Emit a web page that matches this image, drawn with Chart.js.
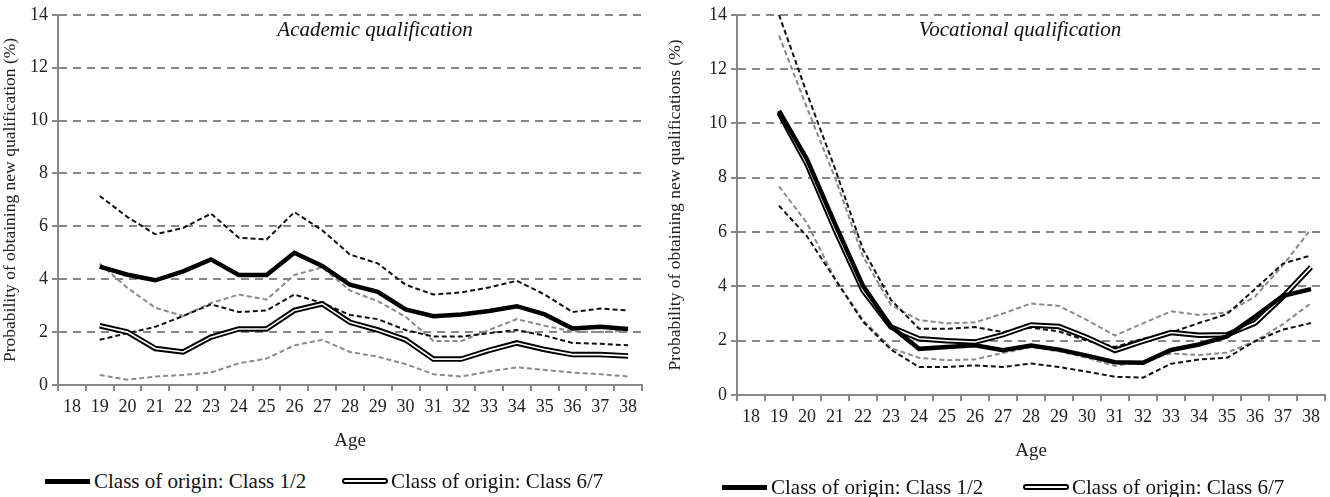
<!DOCTYPE html>
<html>
<head>
<meta charset="utf-8">
<script src="https://cdn.jsdelivr.net/npm/chart.js@4.4.0/dist/chart.umd.min.js"></script>
<style>
body{margin:0;background:#fff;width:1330px;height:497px;position:relative;overflow:hidden;font-family:"Liberation Serif",serif;color:#111}
.box{position:absolute}
.ttl{position:absolute;font-style:italic;font-size:21px;white-space:nowrap;transform:translateX(-50%)}
.leg{position:absolute;font-size:21px;white-space:nowrap;display:flex;align-items:center;height:24px}
.thick{display:inline-block;width:45px;height:5px;background:#000;margin-right:4px}
.dbl{display:inline-block;width:42px;height:2px;border:2px solid #000;border-radius:3px;background:#fff;margin-right:3px}
</style>
</head>
<body>
<div class="box" style="left:0;top:0;width:655px;height:460px"><canvas id="academic"></canvas></div>
<div class="box" style="left:665px;top:0;width:665px;height:470px"><canvas id="vocational"></canvas></div>
<div class="ttl" style="left:375px;top:17px">Academic qualification</div>
<div class="ttl" style="left:1020px;top:17px">Vocational qualification</div>
<div class="leg" style="left:45px;top:469px"><span class="thick"></span>Class of origin: Class 1/2</div>
<div class="leg" style="left:342px;top:469px"><span class="dbl"></span>Class of origin: Class 6/7</div>
<div class="leg" style="left:722px;top:475px"><span class="thick"></span>Class of origin: Class 1/2</div>
<div class="leg" style="left:1023px;top:475px"><span class="dbl"></span>Class of origin: Class 6/7</div>
<script>
// Ages on the x axis
const ages = ['18','19','20','21','22','23','24','25','26','27','28','29','30','31','32','33','34','35','36','37','38'];
const yTicks = [0, 2, 4, 6, 8, 10, 12, 14];

// Academic qualification (%)
const acad12   = [null, 4.48, 4.17, 3.96, 4.30, 4.75, 4.16, 4.16, 5.00, 4.50, 3.79, 3.52, 2.86, 2.60, 2.67, 2.80, 2.98, 2.67, 2.14, 2.20, 2.12];
const acad12Hi = [null, 7.15, 6.35, 5.70, 5.94, 6.48, 5.57, 5.50, 6.54, 5.85, 4.93, 4.60, 3.79, 3.42, 3.50, 3.69, 3.94, 3.42, 2.76, 2.89, 2.82];
const acad12Lo = [null, 1.71, 1.96, 2.20, 2.61, 3.05, 2.76, 2.82, 3.42, 3.10, 2.65, 2.49, 2.08, 1.83, 1.83, 1.96, 2.08, 1.87, 1.59, 1.56, 1.50];
const acad67   = [null, 2.24, 2.00, 1.38, 1.25, 1.81, 2.12, 2.12, 2.82, 3.07, 2.37, 2.08, 1.71, 0.98, 0.98, 1.31, 1.59, 1.34, 1.15, 1.15, 1.10];
const acad67Hi = [null, 4.59, 3.67, 2.92, 2.61, 3.10, 3.42, 3.23, 4.16, 4.45, 3.57, 3.17, 2.58, 1.66, 1.66, 2.08, 2.49, 2.24, 2.03, 2.00, 2.06];
const acad67Lo = [null, 0.38, 0.20, 0.32, 0.38, 0.47, 0.82, 1.00, 1.50, 1.71, 1.25, 1.07, 0.79, 0.41, 0.32, 0.51, 0.67, 0.57, 0.47, 0.41, 0.32];

// Vocational qualification (%)
const voc12   = [null, 10.46, 8.68, 6.30, 4.02, 2.52, 1.70, 1.77, 1.83, 1.65, 1.82, 1.67, 1.45, 1.21, 1.19, 1.66, 1.86, 2.16, 2.89, 3.65, 3.90];
const voc12Hi = [null, 14.0, 11.10, 8.34, 5.36, 3.50, 2.44, 2.44, 2.50, 2.32, 2.48, 2.34, 2.00, 1.77, 2.07, 2.30, 2.65, 2.98, 3.90, 4.84, 5.14];
const voc12Lo = [null, 6.97, 5.84, 4.27, 2.70, 1.67, 1.03, 1.03, 1.09, 1.03, 1.16, 1.03, 0.86, 0.67, 0.64, 1.15, 1.31, 1.37, 1.98, 2.41, 2.65];
const voc67   = [null, 10.40, 8.50, 6.10, 3.85, 2.50, 2.07, 2.00, 1.95, 2.22, 2.58, 2.52, 2.12, 1.64, 1.98, 2.30, 2.20, 2.22, 2.65, 3.62, 4.71];
const voc67Hi = [null, 13.24, 10.57, 8.00, 5.10, 3.31, 2.76, 2.64, 2.67, 3.00, 3.37, 3.28, 2.76, 2.19, 2.64, 3.08, 2.95, 3.04, 3.62, 4.78, 6.11];
const voc67Lo = [null, 7.68, 6.33, 4.27, 2.76, 1.73, 1.37, 1.28, 1.31, 1.55, 1.76, 1.61, 1.37, 1.07, 1.25, 1.53, 1.47, 1.56, 1.98, 2.61, 3.38];

const serif = '"Liberation Serif", "DejaVu Serif", serif';

function line(data, color, width, dash, order) {
    return {data: data, borderColor: color, borderWidth: width, borderDash: dash || [],
        pointRadius: 0, tension: 0, fill: false, order: order};
}

function makeChart(id, yTitle, s, yWidth, padRight, padTop) {
    new Chart(document.getElementById(id), {
        type: 'line',
        data: {
            labels: ages,
            datasets: [
                line(s.main12, '#000', 4.5, null, 1),
                line(s.main67, '#fff', 1.6, null, 2),
                line(s.main67, '#000', 5.5, null, 3),
                line(s.hi12, '#111', 2, [5, 3], 4),
                line(s.lo12, '#111', 2, [5, 3], 5),
                line(s.hi67, '#8a8a8a', 2, [5, 3], 6),
                line(s.lo67, '#8a8a8a', 2, [5, 3], 7)
            ]
        },
        options: {
            responsive: true, maintainAspectRatio: false, animation: false,
            layout: {padding: {top: padTop, right: padRight, left: 0, bottom: 0}},
            plugins: {legend: {display: false}, tooltip: {enabled: false}},
            scales: {
                x: {
                    offset: true,
                    grid: {offset: true, drawOnChartArea: false, drawTicks: true, tickLength: 6, color: '#888', lineWidth: 2},
                    border: {color: '#888', width: 2},
                    ticks: {font: {family: serif, size: 18}, color: '#222', maxRotation: 0, autoSkip: false, padding: 5},
                    title: {display: true, text: 'Age', font: {family: serif, size: 19}, color: '#222', padding: {top: 0, bottom: 8}},
                    afterFit: function(a) { a.height = 75; }
                },
                y: {
                    min: 0, max: 14,
                    afterBuildTicks: function(a) { a.ticks = yTicks.map(v => ({value: v})); },
                    grid: {color: '#888', lineWidth: 2, tickLength: 6, tickBorderDash: [], drawTicks: true},
                    border: {color: '#888', width: 2, dash: [8, 6]},
                    ticks: {font: {family: serif, size: 18}, color: '#222', padding: 4},
                    title: {display: true, text: yTitle, font: {family: serif, size: 17.5}, color: '#222', padding: {top: 0, bottom: 2}},
                    afterFit: function(a) { a.width = yWidth; }
                }
            }
        }
    });
}

makeChart('academic', 'Probability of obtaining new qualification (%)',
    {main12: acad12, hi12: acad12Hi, lo12: acad12Lo, main67: acad67, hi67: acad67Hi, lo67: acad67Lo}, 58, 13, 12);
makeChart('vocational', 'Probability of obtaining new qualifications (%)',
    {main12: voc12, hi12: voc12Hi, lo12: voc12Lo, main67: voc67, hi67: voc67Hi, lo67: voc67Lo}, 72, 5, 8);
</script>
</body>
</html>
